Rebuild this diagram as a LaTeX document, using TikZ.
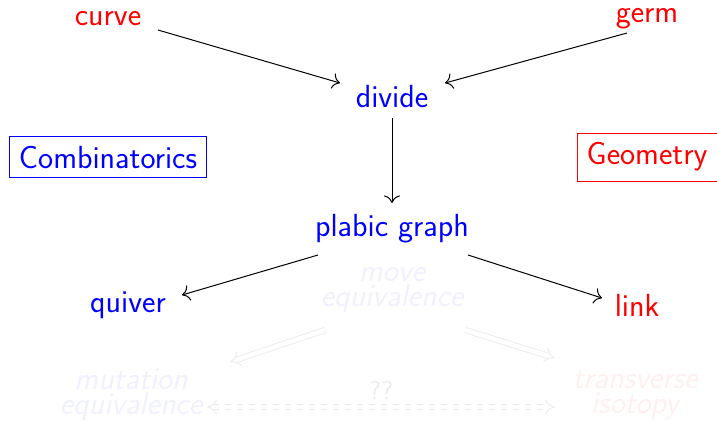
\documentclass[tikz,border=0pt]{standalone}
\usepackage{tikz}
\usetikzlibrary{arrows.meta}
\renewcommand\familydefault{\sfdefault}
\tikzset{
  dg diagram/.style={font=\fontsize{16}{19}\selectfont\sffamily,
    x=0.5pt, y=-0.5pt, line width=0.5pt},
  dg comb/.style={text=blue},
  dg geom/.style={text=red},
  dg field/.style={draw, line width=0.4pt, inner sep=4.8pt},
  dg arrow/.style={-{To[scale=1.4]}},
  dg relation/.style={align=center,
    font=\fontsize{16}{12.5}\selectfont\sffamily\itshape},
  dg faint comb/.style={dg relation, text=blue!6},
  dg faint geom/.style={dg relation, text=red!6},
  dg imply/.style={draw=black!7, double=white, double distance=2.2pt,
    -Implies},
  dg guess/.style={dg imply, dashed, Implies-Implies}
}
\begin{document}
\begin{tikzpicture}[dg diagram]
\useasboundingbox (0,0) rectangle (717,420);
% objects
\node[dg geom] (curve) at (108,19) {curve};
\node[dg geom] (germ) at (647,19) {germ};
\node[dg comb] (divide) at (392,97) {divide};
\node[dg comb, dg field, draw=blue] (comb) at (108,157) {Combinatorics};
\node[dg geom, dg field, draw=red] (geom) at (647,157) {Geometry};
\node[dg comb] (plabic) at (392,229) {plabic graph};
\node[dg comb] (quiver) at (128,305) {quiver};
\node[dg geom] (link) at (637,305) {link};
% equivalences (not yet shown)
\node[dg faint comb] (move) at (392,290) {move\\equivalence};
\node[dg faint comb] (mutation) at (131,395) {mutation\\equivalence};
\node[dg faint geom] (transverse) at (635,395) {transverse\\isotopy};
% maps
\draw[dg arrow] ([shift={(50,11)}]curve.center) -- ([shift={(-52,-14)}]divide.center);
\draw[dg arrow] ([shift={(-20,14)}]germ.center) -- ([shift={(53,-14)}]divide.center);
\draw[dg arrow] ([yshift=-10.5pt]divide.center) -- ([yshift=13pt]plabic.center);
\draw[dg arrow] ([shift={(-74,26)}]plabic.center) -- ([shift={(54,-10)}]quiver.center);
\draw[dg arrow] ([shift={(76,26)}]plabic.center) -- ([shift={(-35,-7)}]link.center);
\draw[dg imply] ([shift={(-67,40)}]move.center) -- ([shift={(99,-33)}]mutation.center);
\draw[dg imply] ([shift={(73,40)}]move.center) -- ([shift={(-80,-37)}]transverse.center);
\draw[dg guess] ([shift={(76,12)}]mutation.center) -- ([shift={(-80,12)}]transverse.center)
  node[midway, above, text=black!8, font=\fontsize{13}{15}\selectfont\sffamily] {??};
\end{tikzpicture}
\end{document}
